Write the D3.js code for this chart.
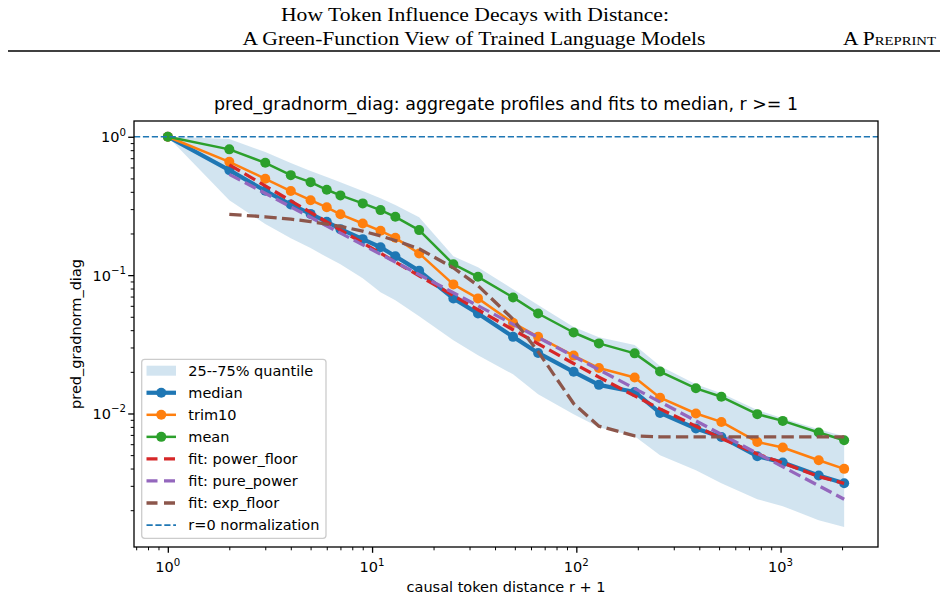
<!DOCTYPE html>
<html>
<head>
<meta charset="utf-8">
<script src="https://cdn.jsdelivr.net/npm/d3@7"></script>
<style>
	body { margin: 0; background: #fff; }
	svg { display: block; }
	text { font-family: 'DejaVu Sans', sans-serif; fill: #000; }
	.serif { font-family: 'Liberation Serif', 'DejaVu Serif', serif; }
</style>
</head>
<body>
<script>
// DATA
const distance = [1, 2, 3, 4, 5, 6, 7, 9, 11, 13, 17, 25, 33, 49, 65, 97, 129, 193, 257, 385, 513, 769, 1025, 1537, 2048];
const median = [1, 0.574, 0.407, 0.324, 0.277, 0.243, 0.215, 0.182, 0.159, 0.137, 0.1074, 0.0679, 0.0528, 0.0358, 0.0274, 0.0200, 0.0161, 0.0143, 0.0101, 0.00779, 0.00677, 0.00491, 0.00442, 0.00356, 0.00313];
const trim10 = [1, 0.659, 0.497, 0.405, 0.348, 0.309, 0.275, 0.236, 0.209, 0.186, 0.1435, 0.0857, 0.0679, 0.0452, 0.0358, 0.0262, 0.0213, 0.0182, 0.0130, 0.0100, 0.00869, 0.00623, 0.00568, 0.00459, 0.00398];
const mean = [1, 0.811, 0.648, 0.528, 0.470, 0.414, 0.377, 0.330, 0.295, 0.264, 0.2115, 0.120, 0.0972, 0.069, 0.0528, 0.0385, 0.0321, 0.0272, 0.0201, 0.0152, 0.0132, 0.00989, 0.00884, 0.00729, 0.00641];
const q25 = [1, 0.348, 0.234, 0.185, 0.157, 0.135, 0.120, 0.095, 0.0753, 0.0659, 0.0505, 0.0339, 0.0264, 0.0192, 0.0138, 0.00989, 0.00796, 0.00686, 0.00499, 0.00389, 0.00313, 0.0024, 0.00214, 0.00169, 0.00151];
const q75 = [1, 0.962, 0.775, 0.645, 0.565, 0.511, 0.470, 0.405, 0.360, 0.321, 0.262, 0.137, 0.114, 0.0792, 0.0607, 0.0421, 0.0356, 0.0312, 0.0220, 0.0163, 0.0140, 0.0106, 0.00925, 0.0077, 0.00685];

// fits are drawn for r >= 1 (distance 2 .. 2048)
const fitDistance = distance.slice(1);
const fitPowerFloor = [0.627, 0.442, 0.344, 0.284, 0.242, 0.212, 0.171, 0.144, 0.1245, 0.0989, 0.0712, 0.0562, 0.0403, 0.0319, 0.0230, 0.0183, 0.0134, 0.0108, 0.0081, 0.0066, 0.0051, 0.0044, 0.0035, 0.00313];
const fitExpFloor = [0.275, 0.264, 0.254, 0.244, 0.234, 0.225, 0.208, 0.192, 0.178, 0.155, 0.113, 0.084, 0.048, 0.028, 0.0118, 0.0081, 0.0069, 0.00678, 0.00677, 0.00677, 0.00677, 0.00677, 0.00677, 0.00677];
const pureDistance = [2, 2048];
const fitPurePower = [0.535, 0.0024];

const xMajor = [1, 10, 100, 1000];
const yMajor = [0.01, 0.1, 1];

// CONFIGURATION
const width = 948;
const height = 598;
const plot = { left: 134, right: 878, top: 121, bottom: 547 };
const title = 'pred_gradnorm_diag: aggregate profiles and fits to median, r >= 1';
const colors = { c0: '#1f77b4', c1: '#ff7f0e', c2: '#2ca02c', c3: '#d62728', c4: '#9467bd', c5: '#8c564b' };
const labelSize = 14.5;

const xScale = d3.scaleLog()
	.domain([0.683, 2999])
	.range([plot.left, plot.right]);
const yScale = d3.scaleLog()
	.domain([0.001084, 1.3])
	.range([plot.bottom, plot.top]);

function minorTicks(scale) {
	const [lo, hi] = scale.domain();
	const out = [];
	for (let k = Math.floor(Math.log10(lo)); k <= Math.ceil(Math.log10(hi)); k++) {
		for (let j = 2; j <= 9; j++) {
			const v = j * Math.pow(10, k);
			if (v >= lo && v <= hi) out.push(v);
		}
	}
	return out;
}

// SVG
const svg = d3.select('body')
	.append('svg')
	.attr('width', width)
	.attr('height', height);

// PAGE HEADER
svg.append('text')
	.attr('class', 'serif')
	.attr('x', 475)
	.attr('y', 21)
	.attr('text-anchor', 'middle')
	.attr('font-size', 19)
	.attr('textLength', 388)
	.attr('lengthAdjust', 'spacingAndGlyphs')
	.text('How Token Influence Decays with Distance:');
svg.append('text')
	.attr('class', 'serif')
	.attr('x', 474)
	.attr('y', 45)
	.attr('text-anchor', 'middle')
	.attr('font-size', 19)
	.attr('textLength', 463)
	.attr('lengthAdjust', 'spacingAndGlyphs')
	.text('A Green-Function View of Trained Language Models');
svg.append('text')
	.attr('class', 'serif')
	.attr('x', 843)
	.attr('y', 45)
	.attr('font-size', 19)
	.attr('textLength', 93)
	.attr('lengthAdjust', 'spacingAndGlyphs')
	.style('font-variant', 'small-caps')
	.text('A Preprint');
svg.append('line')
	.attr('x1', 8)
	.attr('x2', 940)
	.attr('y1', 51)
	.attr('y2', 51)
	.attr('stroke', '#000')
	.attr('stroke-width', 1.5);

// TITLE
svg.append('text')
	.attr('x', (plot.left + plot.right) / 2)
	.attr('y', 110)
	.attr('text-anchor', 'middle')
	.attr('font-size', 17.4)
	.text(title);

// CLIP
svg.append('clipPath')
	.attr('id', 'clip')
	.append('rect')
	.attr('x', plot.left)
	.attr('y', plot.top)
	.attr('width', plot.right - plot.left)
	.attr('height', plot.bottom - plot.top);

const g = svg.append('g').attr('clip-path', 'url(#clip)');

// QUANTILE BAND
const area = d3.area()
	.x(function(d, i) { return xScale(distance[i]); })
	.y0(function(d, i) { return yScale(q25[i]); })
	.y1(function(d, i) { return yScale(q75[i]); });
g.append('path')
	.datum(distance)
	.attr('d', area)
	.attr('fill', colors.c0)
	.attr('fill-opacity', 0.2);

// PROFILES
const profiles = [
	{ name: 'median', values: median, color: colors.c0, width: 4.2 },
	{ name: 'trim10', values: trim10, color: colors.c1, width: 2.5 },
	{ name: 'mean', values: mean, color: colors.c2, width: 2.5 }
];

profiles.forEach(function(p) {
	const line = d3.line()
		.x(function(d, i) { return xScale(distance[i]); })
		.y(function(d) { return yScale(d); });
	g.append('path')
		.datum(p.values)
		.attr('d', line)
		.attr('fill', 'none')
		.attr('stroke', p.color)
		.attr('stroke-width', p.width)
		.attr('stroke-linejoin', 'round');
	g.selectAll('circle.' + p.name)
		.data(p.values)
		.enter()
		.append('circle')
		.attr('class', p.name)
		.attr('cx', function(d, i) { return xScale(distance[i]); })
		.attr('cy', function(d) { return yScale(d); })
		.attr('r', 5)
		.attr('fill', p.color);
});

// FITS
const fits = [
	{ xs: fitDistance, values: fitPowerFloor, color: colors.c3 },
	{ xs: pureDistance, values: fitPurePower, color: colors.c4 },
	{ xs: fitDistance, values: fitExpFloor, color: colors.c5 }
];

fits.forEach(function(f) {
	const line = d3.line()
		.x(function(d, i) { return xScale(f.xs[i]); })
		.y(function(d) { return yScale(d); });
	g.append('path')
		.datum(f.values)
		.attr('d', line)
		.attr('fill', 'none')
		.attr('stroke', f.color)
		.attr('stroke-width', 3.3)
		.attr('stroke-dasharray', '12.3,5.3');
});

// r=0 NORMALIZATION
g.append('line')
	.attr('x1', plot.left)
	.attr('x2', plot.right)
	.attr('y1', yScale(1))
	.attr('y2', yScale(1))
	.attr('stroke', colors.c0)
	.attr('stroke-width', 1.67)
	.attr('stroke-dasharray', '6.2,2.7');

// AXES
const xAxisMajor = d3.axisBottom(xScale).tickValues(xMajor).tickSize(5.8).tickSizeOuter(0).tickFormat('');
const xAxisMinor = d3.axisBottom(xScale).tickValues(minorTicks(xScale)).tickSize(3.3).tickSizeOuter(0).tickFormat('');
const yAxisMajor = d3.axisLeft(yScale).tickValues(yMajor).tickSize(5.8).tickSizeOuter(0).tickFormat('');
const yAxisMinor = d3.axisLeft(yScale).tickValues(minorTicks(yScale)).tickSize(3.3).tickSizeOuter(0).tickFormat('');

[[xAxisMajor, 1.3], [xAxisMinor, 1]].forEach(function(a) {
	svg.append('g')
		.attr('transform', `translate(0, ${plot.bottom})`)
		.call(a[0])
		.call(function(sel) {
			sel.select('.domain').remove();
			sel.selectAll('line').attr('stroke', '#000').attr('stroke-width', a[1]);
		});
});
[[yAxisMajor, 1.3], [yAxisMinor, 1]].forEach(function(a) {
	svg.append('g')
		.attr('transform', `translate(${plot.left}, 0)`)
		.call(a[0])
		.call(function(sel) {
			sel.select('.domain').remove();
			sel.selectAll('line').attr('stroke', '#000').attr('stroke-width', a[1]);
		});
});

// tick labels as 10^k
function powerLabel(t, v) {
	t.append('tspan').text('10');
	t.append('tspan')
		.attr('dy', -6.5)
		.attr('font-size', 10.2)
		.text(String(Math.round(Math.log10(v))).replace('-', '\u2212'));
}
xMajor.forEach(function(v) {
	const t = svg.append('text')
		.attr('x', xScale(v))
		.attr('y', 572)
		.attr('text-anchor', 'middle')
		.attr('font-size', labelSize);
	powerLabel(t, v);
});
yMajor.forEach(function(v) {
	const t = svg.append('text')
		.attr('x', 126)
		.attr('y', yScale(v) + 5.5)
		.attr('text-anchor', 'end')
		.attr('font-size', labelSize);
	powerLabel(t, v);
});

// spines
svg.append('rect')
	.attr('x', plot.left)
	.attr('y', plot.top)
	.attr('width', plot.right - plot.left)
	.attr('height', plot.bottom - plot.top)
	.attr('fill', 'none')
	.attr('stroke', '#000')
	.attr('stroke-width', 1.3);

// AXIS LABELS
svg.append('text')
	.attr('x', (plot.left + plot.right) / 2)
	.attr('y', 592)
	.attr('text-anchor', 'middle')
	.attr('font-size', labelSize)
	.text('causal token distance r + 1');
svg.append('text')
	.attr('transform', `translate(81, ${(plot.top + plot.bottom) / 2}) rotate(-90)`)
	.attr('text-anchor', 'middle')
	.attr('font-size', labelSize)
	.text('pred_gradnorm_diag');

// LEGEND
const legend = svg.append('g').attr('id', 'legend');
legend.append('rect')
	.attr('x', 141.7)
	.attr('y', 359.3)
	.attr('width', 184.3)
	.attr('height', 179)
	.attr('rx', 3)
	.attr('fill', '#fff')
	.attr('fill-opacity', 0.8)
	.attr('stroke', '#cccccc')
	.attr('stroke-width', 1.3);

const legendItems = [
	{ label: '25--75% quantile', kind: 'patch', color: colors.c0 },
	{ label: 'median', kind: 'marker', color: colors.c0, width: 4.2 },
	{ label: 'trim10', kind: 'marker', color: colors.c1, width: 2.5 },
	{ label: 'mean', kind: 'marker', color: colors.c2, width: 2.5 },
	{ label: 'fit: power_floor', kind: 'dash', color: colors.c3 },
	{ label: 'fit: pure_power', kind: 'dash', color: colors.c4 },
	{ label: 'fit: exp_floor', kind: 'dash', color: colors.c5 },
	{ label: 'r=0 normalization', kind: 'thin', color: colors.c0 }
];

legendItems.forEach(function(item, i) {
	const y = 370.7 + i * 22.05;
	const x0 = 146.5;
	const x1 = 176;
	if (item.kind === 'patch') {
		legend.append('rect')
			.attr('x', x0)
			.attr('y', y - 5)
			.attr('width', x1 - x0)
			.attr('height', 10)
			.attr('fill', item.color)
			.attr('fill-opacity', 0.2);
	} else if (item.kind === 'marker') {
		legend.append('line')
			.attr('x1', x0).attr('x2', x1)
			.attr('y1', y).attr('y2', y)
			.attr('stroke', item.color)
			.attr('stroke-width', item.width);
		legend.append('circle')
			.attr('cx', (x0 + x1) / 2)
			.attr('cy', y)
			.attr('r', 5)
			.attr('fill', item.color);
	} else if (item.kind === 'dash') {
		legend.append('line')
			.attr('x1', x0).attr('x2', x1)
			.attr('y1', y).attr('y2', y)
			.attr('stroke', item.color)
			.attr('stroke-width', 3.3)
			.attr('stroke-dasharray', '11,6.5');
	} else {
		legend.append('line')
			.attr('x1', x0).attr('x2', x1)
			.attr('y1', y).attr('y2', y)
			.attr('stroke', item.color)
			.attr('stroke-width', 1.67)
			.attr('stroke-dasharray', '6.2,2.7');
	}
	legend.append('text')
		.attr('x', 188.3)
		.attr('y', y)
		.attr('dy', '0.35em')
		.attr('font-size', labelSize)
		.text(item.label);
});
</script>
</body>
</html>
